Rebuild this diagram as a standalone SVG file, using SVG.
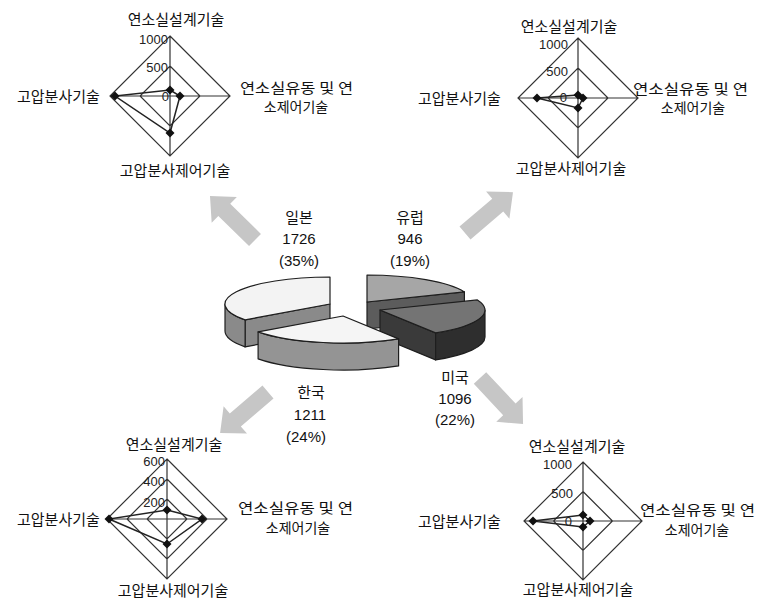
<svg xmlns="http://www.w3.org/2000/svg" xmlns:xlink="http://www.w3.org/1999/xlink" width="760" height="600" viewBox="0 0 760 600">
<style>
.kr{font-family:"Noto Sans CJK KR","Noto Sans",sans-serif;font-size:15px;fill:#111;}
.kr2{font-family:"Noto Sans CJK KR","Noto Sans",sans-serif;font-size:14px;fill:#111;}
.num{font-family:"Liberation Sans",Arial,sans-serif;font-size:13px;fill:#222;}
.pnum{font-family:"Liberation Sans",Arial,sans-serif;font-size:15px;fill:#111;}
.grid{fill:none;stroke:#333;stroke-width:1.2;}
.data{fill:none;stroke:#222;stroke-width:1.5;}
.edge{stroke:#1e1e1e;stroke-width:1.2;stroke-linejoin:round;}
.arrow{fill:#c6c6c6;}
</style>
<defs>
<path id="dm" d="M0,-4.5 L4.5,0 L0,4.5 L-4.5,0 Z" fill="#111"/>
<path id="arr" d="M0,-8.5 H43 V-18 L63,0 L43,18 V8.5 H0 Z"/>
</defs>
<rect width="760" height="600" fill="#ffffff"/>

<g id="connectors">
<use xlink:href="#arr" class="arrow" transform="translate(255,240) rotate(-135.6)"/>
<use xlink:href="#arr" class="arrow" transform="translate(465,233) rotate(-40.4)"/>
<use xlink:href="#arr" class="arrow" transform="translate(268,392) rotate(139.5)"/>
<use xlink:href="#arr" class="arrow" transform="translate(480,378) rotate(46.9)"/>
</g>

<g id="pie">
<g id="slice-europe">
<path class="edge" fill="#5c5c5c" d="M367,302 L464.4,291.9 L464.4,318.9 L367,329 Z"/>
<path class="edge" fill="#a6a6a6" d="M367,302 L367,275 A105,27 0 0,1 464.4,291.9 Z"/>
</g>
<g id="slice-japan">
<path class="edge" fill="#8a8a8a" d="M330,304 L245.1,319.9 L245.1,346.9 L330,331 Z"/>
<path class="edge" fill="#8a8a8a" d="M245.1,319.9 A105,27 0 0,1 225,304 L225,331 A105,27 0 0,0 245.1,346.9 Z"/>
<path class="edge" fill="#f3f3f3" d="M330,304 L245.1,319.9 A105,27 0 0,1 330,277 Z"/>
</g>
<g id="slice-usa">
<path class="edge" fill="#3a3a3a" d="M380,310 L435.6,332.9 L435.6,359.9 L380,337 Z"/>
<path class="edge" fill="#2e2e2e" d="M485,310 A105,27 0 0,1 435.6,332.9 L435.6,359.9 A105,27 0 0,0 485,337 Z"/>
<path class="edge" fill="#747474" d="M380,310 L477.4,299.9 A105,27 0 0,1 435.6,332.9 Z"/>
</g>
<g id="slice-korea">
<path class="edge" fill="#949494" d="M398.6,338.9 A105,27 0 0,1 258.1,331.9 L258.1,358.9 A105,27 0 0,0 398.6,365.9 Z"/>
<path class="edge" fill="#f5f5f5" d="M343,316 L398.6,338.9 A105,27 0 0,1 258.1,331.9 Z"/>
</g>
</g>

<g id="label-japan" text-anchor="middle">
<text class="kr" x="299" y="223">일본</text>
<text class="pnum" x="299" y="244">1726</text>
<text class="pnum" x="299" y="266">(35%)</text>
</g>
<g id="label-europe" text-anchor="middle">
<text class="kr" x="410" y="223">유럽</text>
<text class="pnum" x="410" y="244">946</text>
<text class="pnum" x="410" y="266">(19%)</text>
</g>
<g id="label-korea" text-anchor="middle">
<text class="kr" x="311" y="398">한국</text>
<text class="pnum" x="310" y="420">1211</text>
<text class="pnum" x="306" y="442">(24%)</text>
</g>
<g id="label-usa" text-anchor="middle">
<text class="kr" x="455" y="383">미국</text>
<text class="pnum" x="455" y="404">1096</text>
<text class="pnum" x="455" y="425">(22%)</text>
</g>

<g id="radar-japan">
<path class="grid" d="M170,36 L230,96 L170,156 L110,96 Z M170,66 L200,96 L170,126 L140,96 Z M170,36 V156 M110,96 H230"/>
<path class="data" d="M170,90 L180,96 L170,133 L115,96 Z"/>
<use xlink:href="#dm" x="170" y="90"/>
<use xlink:href="#dm" x="180" y="96"/>
<use xlink:href="#dm" x="170" y="133"/>
<use xlink:href="#dm" x="115" y="96"/>
<text class="num" x="168" y="44" text-anchor="end">1000</text>
<text class="num" x="168" y="72" text-anchor="end">500</text>
<text class="num" x="169" y="101" text-anchor="end">0</text>
<text class="kr" x="176" y="25" text-anchor="middle">연소실설계기술</text>
<text class="kr" x="17" y="102">고압분사기술</text>
<text class="kr2" x="240" y="93" textLength="113" lengthAdjust="spacingAndGlyphs">연소실유동 및 연</text>
<text class="kr2" x="296" y="112" text-anchor="middle">소제어기술</text>
<text class="kr" x="175" y="176" text-anchor="middle">고압분사제어기술</text>
</g>

<g id="radar-europe">
<path class="grid" d="M578,38 L638,98 L578,158 L518,98 Z M578,68 L608,98 L578,128 L548,98 Z M578,38 V158 M518,98 H638"/>
<path class="data" d="M578,95 L583,98 L578,108 L537,98 Z"/>
<use xlink:href="#dm" x="578" y="95"/>
<use xlink:href="#dm" x="583" y="98"/>
<use xlink:href="#dm" x="578" y="108"/>
<use xlink:href="#dm" x="537" y="98"/>
<text class="num" x="568" y="49" text-anchor="end">1000</text>
<text class="num" x="568" y="76" text-anchor="end">500</text>
<text class="num" x="567" y="102" text-anchor="end">0</text>
<text class="kr" x="569" y="32" text-anchor="middle">연소실설계기술</text>
<text class="kr" x="418" y="104">고압분사기술</text>
<text class="kr2" x="633" y="94" textLength="115" lengthAdjust="spacingAndGlyphs">연소실유동 및 연</text>
<text class="kr2" x="693" y="113" text-anchor="middle">소제어기술</text>
<text class="kr" x="571" y="174" text-anchor="middle">고압분사제어기술</text>
</g>

<g id="radar-korea">
<path class="grid" d="M167,459 L227,519 L167,579 L107,519 Z M167,479 L207,519 L167,559 L127,519 Z M167,499 L187,519 L167,539 L147,519 Z M167,459 V579 M107,519 H227"/>
<path class="data" d="M167,510 L202,519 L167,544 L109,519 Z"/>
<use xlink:href="#dm" x="167" y="510"/>
<use xlink:href="#dm" x="202" y="519"/>
<use xlink:href="#dm" x="167" y="544"/>
<use xlink:href="#dm" x="109" y="519"/>
<text class="num" x="165" y="466" text-anchor="end">600</text>
<text class="num" x="165" y="486" text-anchor="end">400</text>
<text class="num" x="165" y="507" text-anchor="end">200</text>
<text class="kr" x="174" y="450" text-anchor="middle">연소실설계기술</text>
<text class="kr" x="17" y="525">고압분사기술</text>
<text class="kr2" x="238" y="513" textLength="115" lengthAdjust="spacingAndGlyphs">연소실유동 및 연</text>
<text class="kr2" x="298" y="533" text-anchor="middle">소제어기술</text>
<text class="kr" x="173" y="596" text-anchor="middle">고압분사제어기술</text>
</g>

<g id="radar-usa">
<path class="grid" d="M583,462 L642,521 L583,580 L524,521 Z M583,491.5 L612.5,521 L583,550.5 L553.5,521 Z M583,462 V580 M524,521 H642"/>
<path class="data" d="M583,515 L590,521 L583,527 L533,521 Z"/>
<use xlink:href="#dm" x="583" y="515"/>
<use xlink:href="#dm" x="590" y="521"/>
<use xlink:href="#dm" x="583" y="527"/>
<use xlink:href="#dm" x="533" y="521"/>
<text class="num" x="572" y="469" text-anchor="end">1000</text>
<text class="num" x="573" y="498" text-anchor="end">500</text>
<text class="num" x="572" y="526" text-anchor="end">0</text>
<text class="kr" x="577" y="452" text-anchor="middle">연소실설계기술</text>
<text class="kr" x="418" y="527">고압분사기술</text>
<text class="kr2" x="640" y="515" textLength="115" lengthAdjust="spacingAndGlyphs">연소실유동 및 연</text>
<text class="kr2" x="697" y="535" text-anchor="middle">소제어기술</text>
<text class="kr" x="578" y="595" text-anchor="middle">고압분사제어기술</text>
</g>
</svg>
